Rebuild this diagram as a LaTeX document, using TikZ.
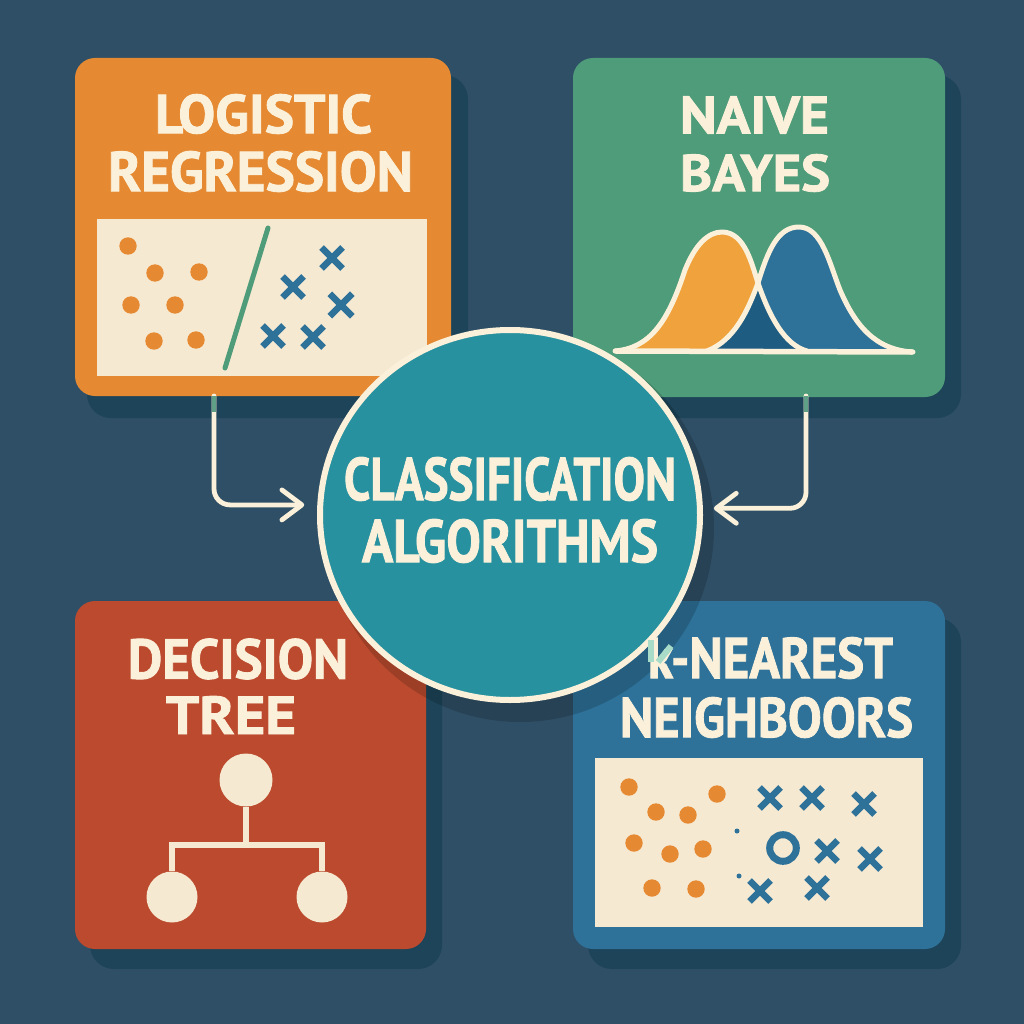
\documentclass[tikz,border=0pt]{standalone}
\usepackage{graphicx}
\usepackage{fontspec}
\setmainfont{PT Sans}[BoldFeatures={FakeBold=1.6}]
\usetikzlibrary{arrows.meta,shapes.geometric}
\definecolor{bgc}{HTML}{2F4F66}
\definecolor{shc}{HTML}{1D4458}
\definecolor{orc}{HTML}{E58A33}
\definecolor{grc}{HTML}{4F9C7A}
\definecolor{rdc}{HTML}{BC4A2E}
\definecolor{blc}{HTML}{2E7199}
\definecolor{tlc}{HTML}{28919F}
\definecolor{pan}{HTML}{F6E9D2}
\definecolor{crm}{HTML}{FBF1DA}
\definecolor{ovl}{HTML}{1F5C82}
\definecolor{bor}{HTML}{F0A23C}
\definecolor{mnt}{HTML}{5F9F86}
\definecolor{mlt}{HTML}{A8DCC8}
\newcommand{\fit}[3]{\resizebox{#1pt}{#2pt}{\bfseries #3}}
\newcommand{\bellA}{(615,351) .. controls (650,348) and (668,322) .. (685,270) .. controls (695,245) and (708,232) .. (722,232) .. controls (745,232) and (752,265) .. (758,283) .. controls (770,318) and (785,345) .. (807,351)}
\newcommand{\bellB}{(707,351) .. controls (735,340) and (748,310) .. (758,283) .. controls (768,250) and (778,227) .. (799,227) .. controls (822,227) and (830,265) .. (840,290) .. controls (855,325) and (875,350) .. (913,352)}
\tikzset{
 card/.style={rounded corners=20pt,inner sep=0pt,draw=none},
 shadowbox/.style={rounded corners=24pt,fill=shc},
 panel/.style={fill=pan,inner sep=0pt},
 title/.style={inner sep=0pt,text=crm},
 xmark/.style={draw=blc,line width=6.5pt,line cap=butt},
 link/.style={draw=crm,line width=4.8pt,rounded corners=16pt,-{Straight Barb[length=20pt,width=30pt,line width=4.8pt,round]},line cap=round},
 stub/.style={draw=mnt,line width=4.8pt},
 treeline/.style={draw=pan,line width=6pt},
 treenode/.style={circle,fill=pan,inner sep=0pt},
}
\newcommand{\xm}[3][14]{\draw[xmark] (#2-#1*0.75,#3-#1*0.75) -- (#2+#1*0.75,#3+#1*0.75) (#2-#1*0.75,#3+#1*0.75) -- (#2+#1*0.75,#3-#1*0.75);}
\begin{document}
\begin{tikzpicture}[x=1pt,y=-1pt]
\useasboundingbox (0,0) rectangle (1024,1024);
\fill[bgc] (0,0) rectangle (1024,1024);
% shadows
\fill[shadowbox] (87,75) rectangle (468,418);
\fill[shadowbox] (588,75) rectangle (961,418);
\fill[shadowbox] (90,618) rectangle (442,969);
\fill[shadowbox] (588,618) rectangle (961,969);
% cards
\node[card,fill=orc,minimum width=376pt,minimum height=338pt] (lr) at (263,227) {};
\node[card,fill=grc,minimum width=372pt,minimum height=339pt] (nb) at (759,227.5) {};
\node[card,fill=rdc,minimum width=351pt,minimum height=348pt] (dt) at (250.5,775) {};
\node[card,fill=blc,minimum width=372pt,minimum height=348pt] (kn) at (759,775) {};
% logistic panel
\node[panel,minimum width=330pt,minimum height=157pt] (lrp) at (262,297.5) {};
\foreach \a/\b in {128/246,155/273,199/272,131/305,175/305,154/341,196/340}
  \fill[orc] (\a,\b) circle (8.7);
\draw[draw=grc,line width=5pt,line cap=round] (268,228) -- (225,368);
\xm{332}{258}\xm{293}{287}\xm[15]{341}{305}\xm{273}{336}\xm{313}{337}
% bells
\fill[bor] \bellA -- cycle;
\fill[blc] \bellB -- cycle;
\begin{scope}
\clip \bellA -- cycle;
\fill[ovl] \bellB -- cycle;
\end{scope}
\draw[crm,line width=5pt,line cap=round,line join=round] \bellA;
\draw[crm,line width=5pt,line cap=round,line join=round] \bellB;
\draw[crm,line width=5.5pt,line cap=round] (616,351) -- (912,352);
% tree
\node[treenode,minimum size=53pt] (t1) at (246,780) {};
\node[treenode,minimum size=51pt] (t2) at (172,897) {};
\node[treenode,minimum size=51pt] (t3) at (322,897) {};
\coordinate (tj) at (246,845);
\draw[treeline] (t1) -- (tj);
\draw[treeline] (t2) |- (tj);
\draw[treeline] (t3) |- (tj);
% knn panel
\node[panel,minimum width=328pt,minimum height=169pt] (knp) at (759,842.5) {};
\foreach \a/\b in {629/787,717/794,656/812,688/815,634/843,670/854,703/849,652/888,696/889}
  \fill[orc] (\a,\b) circle (8.7);
\xm{770}{798}\xm{812}{798}\xm{864}{804}\xm{827}{851}\xm{870}{859}\xm{760}{891}\xm{817}{888}
\draw[blc,line width=7pt] (783,848) circle (13.3);
\fill[blc] (737,831) circle (2.5) (739,876) circle (2.5);
% hub shadow
\fill[black,opacity=.16] (520,528) circle (194);
% hub
\node[ellipse,fill=tlc,draw=crm,line width=6pt,minimum width=380pt,minimum height=370pt,inner sep=0pt] (hub) at (510,515) {};
% connectors
\coordinate (hl) at (hub.177.5);
\coordinate (hr) at (hub.2.5);
\coordinate (lo) at (214,396);
\coordinate (ro) at (806,396);
\coordinate (lm) at (214,412);
\coordinate (rm) at (806,412);
\draw[link,shorten >=13pt] (lo) |- (hl);
\draw[link,shorten >=11pt] (ro) |- (hr);
\draw[stub] (lo) -- (lm);
\draw[stub] (ro) -- (rm);
% titles
\node[title] (t1a) at (263.5,114) {\fit{217}{39}{LOGISTIC}};
\node[title] (t1b) at (260.5,171.5) {\fit{305}{40}{REGRESSION}};
\node[title] (t2a) at (754.5,115) {\fit{149}{37}{NAIVE}};
\node[title] (t2b) at (755,173) {\fit{150}{37}{BAYES}};
\node[title] (t3a) at (238,659) {\fit{220}{40}{DECISION}};
\node[title] (t3b) at (231,715) {\fit{130}{38}{TREE}};
\node[title] (t4a) at (770.5,658) {\fit{245}{41}{k-NEAREST}};
\node[title] (t4b) at (766.5,717.5) {\fit{293}{40}{NEIGHBOORS}};
\node[title] (c1) at (510,479) {\fit{332}{43}{CLASSIFICATION}};
\node[title] (c2) at (510,541) {\fit{296}{43}{ALGORITHMS}};
\draw[draw=mlt,line width=6pt] (671,646) -- (658,662);
\draw[draw=mlt,line width=6pt] (651,640) -- (651,662);
\end{tikzpicture}
\end{document}
